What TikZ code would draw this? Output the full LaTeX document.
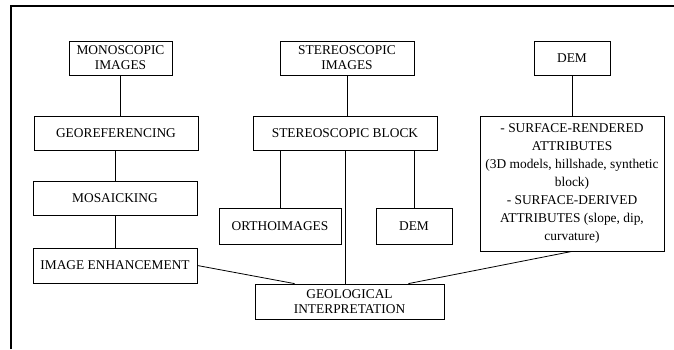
\documentclass[tikz,border=0pt]{standalone}
\usepackage{fontspec}
\setmainfont{Liberation Serif}
\usepackage{tikz}
\usetikzlibrary{positioning, calc}

\begin{document}
\begin{tikzpicture}[x=1pt, y=-1pt,
    stagebox/.style={draw, line width=0.8pt, inner sep=0pt, align=center,
      font=\fontsize{13.4}{15}\selectfont},
    link/.style={line width=0.8pt}]
  \useasboundingbox (0,0) rectangle (674,349);
  % frame
  \draw[line width=1.4pt] (11,349) -- (11,6) -- (674,6);

  % left column
  \node[stagebox, minimum width=103pt, minimum height=34pt] (mono) at (120.5,58) {MONOSCOPIC\\IMAGES};
  \node[stagebox, minimum width=164pt, minimum height=34pt] (georef) at (116,133) {GEOREFERENCING};
  \node[stagebox, minimum width=164pt, minimum height=34pt] (mosaic) at (115,198) {MOSAICKING};
  \node[stagebox, minimum width=164pt, minimum height=35pt] (enhance) at (115,265.5) {IMAGE ENHANCEMENT};

  % middle column
  \node[stagebox, minimum width=134pt, minimum height=34pt] (stereo) at (347,58) {STEREOSCOPIC\\IMAGES};
  \node[stagebox, minimum width=184pt, minimum height=34pt] (block) at (345,133) {STEREOSCOPIC BLOCK};
  \node[stagebox, minimum width=122pt, minimum height=36pt] (ortho) at (280,226) {ORTHOIMAGES};
  \node[stagebox, minimum width=76pt, minimum height=36pt] (demmid) at (414,226) {DEM};

  % right column
  \node[stagebox, minimum width=76pt, minimum height=34pt] (demtop) at (572,58) {DEM};
  \node[stagebox, minimum width=184pt, minimum height=135pt,
        font=\fontsize{13.4}{18}\selectfont] (attrs) at (572,183.5)
    {- SURFACE-RENDERED\\ATTRIBUTES\\(3D models, hillshade, synthetic\\block)\\- SURFACE-DERIVED\\ATTRIBUTES (slope, dip,\\curvature)};

  \node[stagebox, minimum width=189pt, minimum height=35pt] (interp) at (349.5,301.5) {GEOLOGICAL\\INTERPRETATION};

  % connectors
  \draw[link] (mono) -- (mono |- georef.north);
  \draw[link] (georef.south -| mosaic) -- (mosaic);
  \draw[link] (mosaic) -- (enhance);
  \draw[link] (stereo) -- (stereo |- block.north);
  \draw[link] (block.south -| ortho) -- (ortho);
  \draw[link] (block.south -| demmid) -- (demmid);
  \draw[link] (block.south) -- (block.south |- interp.north);
  \draw[link] (demtop) -- (attrs);
  \draw[link] (enhance.east) -- ([xshift=40pt]interp.north west);
  \draw[link] (attrs.south) -- ([xshift=-36pt]interp.north east);
\end{tikzpicture}
\end{document}
